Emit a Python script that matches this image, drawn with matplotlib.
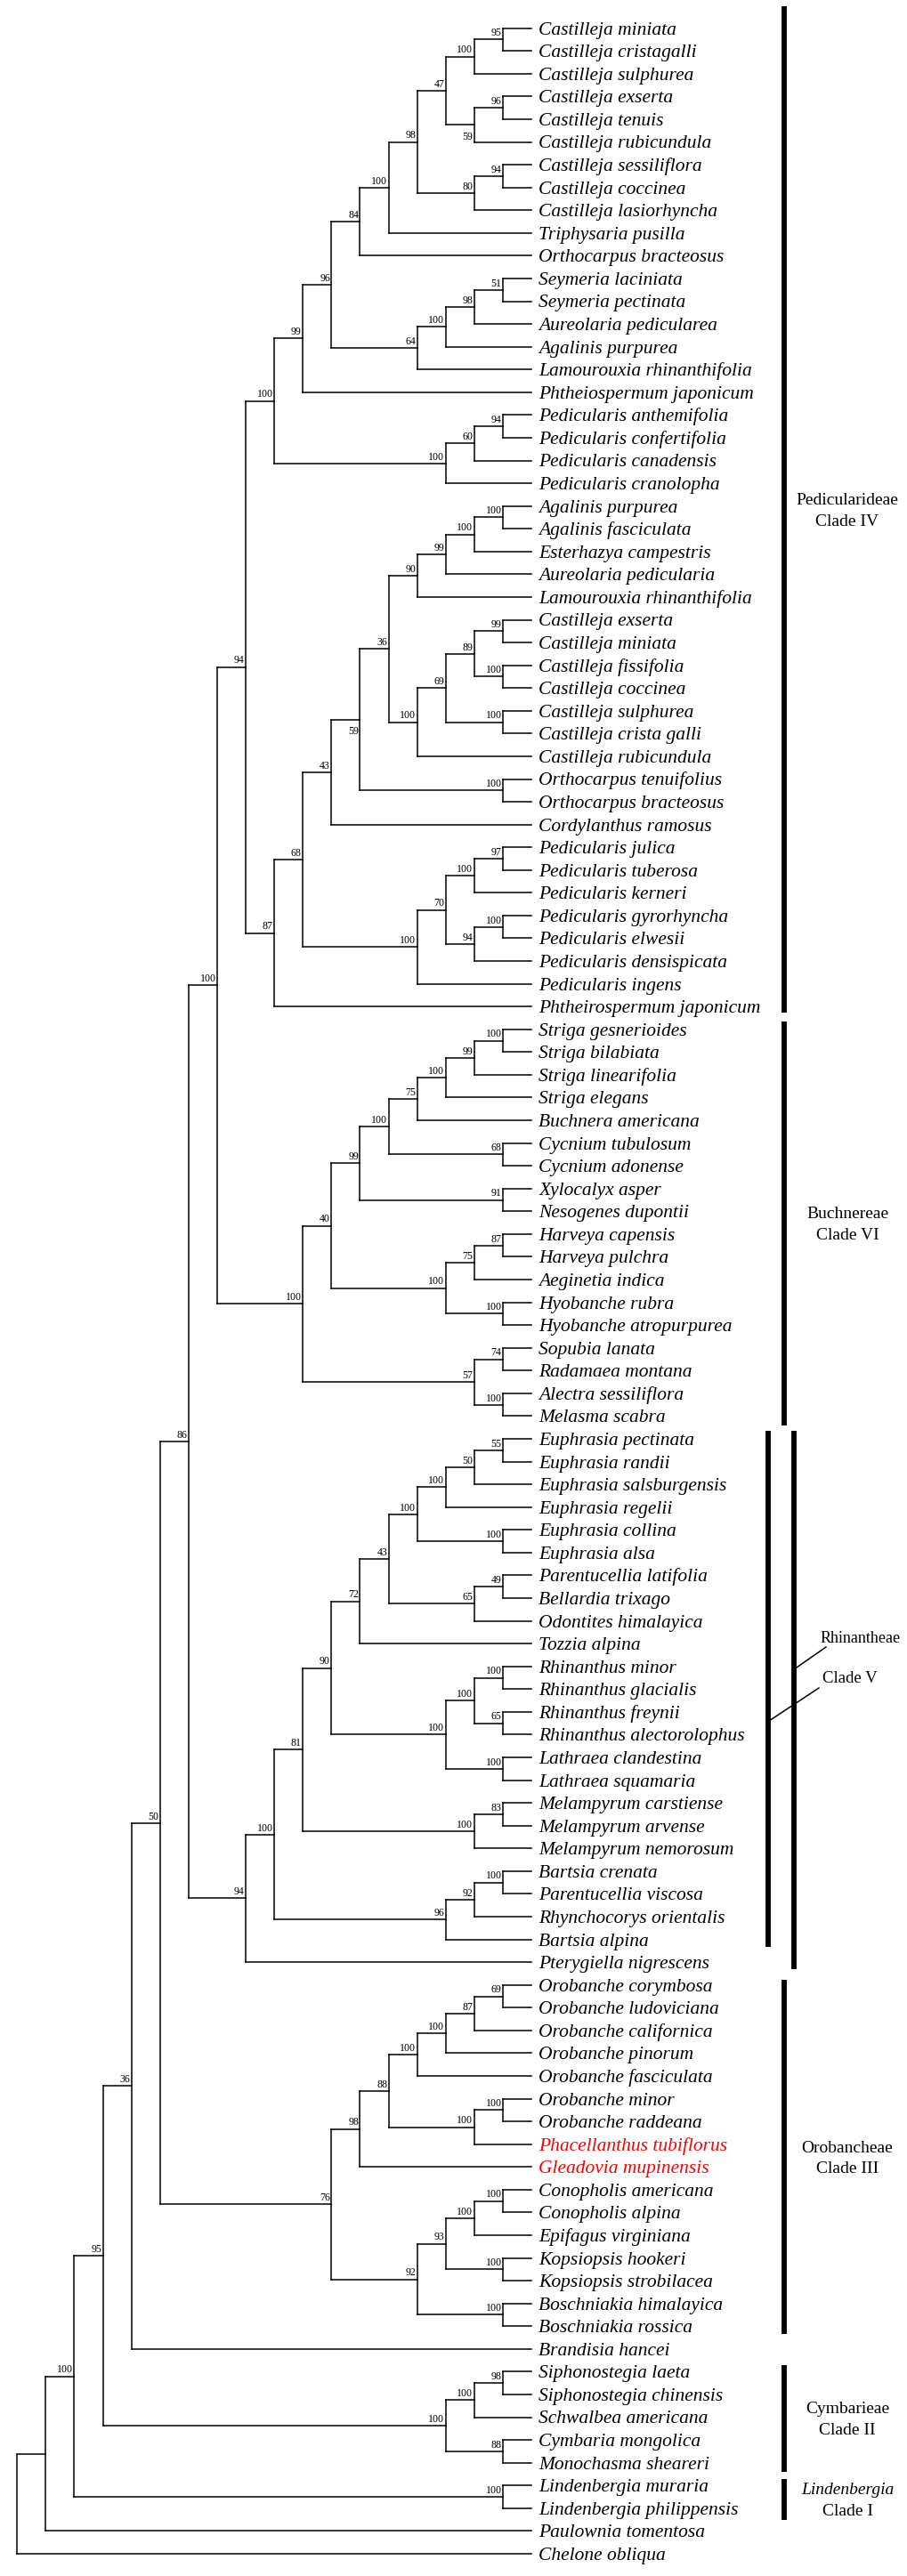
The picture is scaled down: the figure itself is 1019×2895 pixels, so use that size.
import matplotlib
matplotlib.use("Agg")
import matplotlib.pyplot as plt
from matplotlib.collections import LineCollection

# topology + bootstrap support, one newick chunk per tribe
PEDICULARIDEAE_A = (
    "(((((((((Castilleja miniata,Castilleja cristagalli)95,Castilleja sulphurea)100,"
    "((Castilleja exserta,Castilleja tenuis)96,Castilleja rubicundula)59)47,"
    "((Castilleja sessiliflora,Castilleja coccinea)94,Castilleja lasiorhyncha)80)98,"
    "Triphysaria pusilla)100,Orthocarpus bracteosus)84,"
    "((((Seymeria laciniata,Seymeria pectinata)51,Aureolaria pedicularea)98,"
    "Agalinis purpurea)100,Lamourouxia rhinanthifolia)64)96,Phtheiospermum japonicum)99,"
    "(((Pedicularis anthemifolia,Pedicularis confertifolia)94,Pedicularis canadensis)60,"
    "Pedicularis cranolopha)100)100"
)
PEDICULARIDEAE_B = (
    "(((((((((Agalinis purpurea,Agalinis fasciculata)100,Esterhazya campestris)100,"
    "Aureolaria pedicularia)99,Lamourouxia rhinanthifolia)90,"
    "((((Castilleja exserta,Castilleja miniata)99,(Castilleja fissifolia,Castilleja coccinea)100)89,"
    "(Castilleja sulphurea,Castilleja crista galli)100)69,Castilleja rubicundula)100)36,"
    "(Orthocarpus tenuifolius,Orthocarpus bracteosus)100)59,Cordylanthus ramosus)43,"
    "((((Pedicularis julica,Pedicularis tuberosa)97,Pedicularis kerneri)100,"
    "((Pedicularis gyrorhyncha,Pedicularis elwesii)100,Pedicularis densispicata)94)70,"
    "Pedicularis ingens)100)68,Phtheirospermum japonicum)87"
)
BUCHNEREAE = (
    "((((((((Striga gesnerioides,Striga bilabiata)100,Striga linearifolia)99,Striga elegans)100,"
    "Buchnera americana)75,(Cycnium tubulosum,Cycnium adonense)68)100,"
    "(Xylocalyx asper,Nesogenes dupontii)91)99,"
    "(((Harveya capensis,Harveya pulchra)87,Aeginetia indica)75,"
    "(Hyobanche rubra,Hyobanche atropurpurea)100)100)40,"
    "((Sopubia lanata,Radamaea montana)74,(Alectra sessiliflora,Melasma scabra)100)57)100"
)
RHINANTHEAE = (
    "((((((((((Euphrasia pectinata,Euphrasia randii)55,Euphrasia salsburgensis)50,Euphrasia regelii)100,"
    "(Euphrasia collina,Euphrasia alsa)100)100,"
    "((Parentucellia latifolia,Bellardia trixago)49,Odontites himalayica)65)43,Tozzia alpina)72,"
    "(((Rhinanthus minor,Rhinanthus glacialis)100,(Rhinanthus freynii,Rhinanthus alectorolophus)65)100,"
    "(Lathraea clandestina,Lathraea squamaria)100)100)90,"
    "((Melampyrum carstiense,Melampyrum arvense)83,Melampyrum nemorosum)100)81,"
    "(((Bartsia crenata,Parentucellia viscosa)100,Rhynchocorys orientalis)92,Bartsia alpina)96)100,"
    "Pterygiella nigrescens)94"
)
OROBANCHEAE = (
    "(((((((Orobanche corymbosa,Orobanche ludoviciana)69,Orobanche californica)87,Orobanche pinorum)100,"
    "Orobanche fasciculata)100,((Orobanche minor,Orobanche raddeana)100,Phacellanthus tubiflorus)100)88,"
    "Gleadovia mupinensis)98,"
    "((((Conopholis americana,Conopholis alpina)100,Epifagus virginiana)100,"
    "(Kopsiopsis hookeri,Kopsiopsis strobilacea)100)93,(Boschniakia himalayica,Boschniakia rossica)100)92)76"
)
CYMBARIEAE = ("(((Siphonostegia laeta,Siphonostegia chinensis)98,Schwalbea americana)100,"
              "(Cymbaria mongolica,Monochasma sheareri)88)100")
LINDENBERGIA = "(Lindenbergia muraria,Lindenbergia philippensis)100"

TREE = ("(((((((((" + PEDICULARIDEAE_A + "," + PEDICULARIDEAE_B + ")94,"
        + BUCHNEREAE + ")100," + RHINANTHEAE + ")86," + OROBANCHEAE + ")50,"
        "Brandisia hancei)36," + CYMBARIEAE + ")95," + LINDENBERGIA + ")100,"
        "Paulownia tomentosa),Chelone obliqua)")

HIGHLIGHT = ["Phacellanthus tubiflorus", "Gleadovia mupinensis"]
LABEL_BELOW = ["59"]

# clade bars on the right
CLADE_TOP = ["Pedicularideae", "Buchnereae", "Orobancheae", "Cymbarieae", "Lindenbergia"]
CLADE_SUB = ["Clade IV", "Clade VI", "Clade III", "Clade II", "Clade I"]
CLADE_FIRST = ["Castilleja miniata", "Striga gesnerioides", "Orobanche corymbosa",
               "Siphonostegia laeta", "Lindenbergia muraria"]
CLADE_LAST = ["Phtheirospermum japonicum", "Melasma scabra", "Boschniakia rossica",
              "Monochasma sheareri", "Lindenbergia philippensis"]


def parse(s):
    pos = 0

    def node():
        nonlocal pos
        if s[pos] == "(":
            pos += 1
            kids = [node()]
            while s[pos] == ",":
                pos += 1
                kids.append(node())
            pos += 1
            start = pos
            while pos < len(s) and s[pos] not in ",)":
                pos += 1
            return {"kids": kids, "label": s[start:pos]}
        start = pos
        while s[pos] not in ",)":
            pos += 1
        return {"name": s[start:pos]}

    return node()


root = parse(TREE)
leaves = []


def layout(n):
    if "name" in n:
        n["h"] = 0
        n["y"] = len(leaves)
        leaves.append(n)
        return
    for k in n["kids"]:
        layout(k)
    n["h"] = max(k["h"] for k in n["kids"]) + 1
    n["y"] = (n["kids"][0]["y"] + n["kids"][-1]["y"]) / 2


layout(root)

# pixel geometry of the original figure
W, H = 1020, 2895
TIP_PX, STEP_PX = 597, 32.1
ROW0_PX, ROW_PX = 31.7, 25.57


def fx(px):
    return (px - TIP_PX) / STEP_PX


def fy(py):
    return (py - ROW0_PX) / ROW_PX


fig = plt.figure(figsize=(W / 100, H / 100), dpi=100)
ax = fig.add_axes([0, 0, 1, 1])
ax.set_xlim(fx(0), fx(W))
ax.set_ylim(fy(H), fy(0))
ax.axis("off")

SERIF = "Liberation Serif"
segs = []
supports = []


def collect(n):
    if "kids" not in n:
        return
    x = -n["h"]
    segs.append([(x, n["kids"][0]["y"]), (x, n["kids"][-1]["y"])])
    for k in n["kids"]:
        segs.append([(x, k["y"]), (-k["h"], k["y"])])
        collect(k)
    if n["label"]:
        supports.append((x, n["y"], n["label"]))


collect(root)
ax.add_collection(LineCollection(segs, colors="black", linewidths=1.1,
                                 capstyle="projecting"))

for x, y, lab in supports:
    dy = -12 if lab in LABEL_BELOW else 3
    ax.annotate(lab, (x, y), xytext=(-1, dy), textcoords="offset points",
                ha="right", va="baseline", fontsize=8.6, family=SERIF)

for lf in leaves:
    ax.annotate(lf["name"], (0, lf["y"]), xytext=(6, -5), textcoords="offset points",
                ha="left", va="baseline", fontsize=15.5, family=SERIF, style="italic",
                color="red" if lf["name"] in HIGHLIGHT else "black")

names = [lf["name"] for lf in leaves]


def idx(name, after=0):
    return names.index(name, after)


BAR_X = fx(881)
BAR_LW = 4.2
LABEL_X = fx(952)
pad_top = [0.97, 0.34, 0.22, 0.29, 0.30]
pad_bot = [0.27, 0.41, 0.35, 0.40, 0.50]
start = 0
for i in range(len(CLADE_TOP)):
    a = idx(CLADE_FIRST[i], start)
    b = idx(CLADE_LAST[i], a)
    start = b
    y0, y1 = a - pad_top[i], b + pad_bot[i]
    ax.plot([BAR_X, BAR_X], [y0, y1], color="black", lw=BAR_LW, solid_capstyle="butt")
    mid = (y0 + y1) / 2
    ax.annotate(CLADE_TOP[i], (LABEL_X, mid), xytext=(0, 4), textcoords="offset points",
                ha="center", va="baseline", fontsize=14, family=SERIF,
                style="italic" if CLADE_TOP[i] == "Lindenbergia" else "normal")
    ax.annotate(CLADE_SUB[i], (LABEL_X, mid), xytext=(0, -13), textcoords="offset points",
                ha="center", va="baseline", fontsize=14, family=SERIF)

# Rhinantheae: two bars with leader lines
a = idx("Euphrasia pectinata")
b_in = idx("Bartsia alpina", a)
b_out = idx("Pterygiella nigrescens", a)
ax.plot([fx(863), fx(863)], [a - 0.35, b_in + 0.33], color="black", lw=BAR_LW, solid_capstyle="butt")
ax.plot([fx(892), fx(892)], [a - 0.35, b_out + 0.30], color="black", lw=BAR_LW, solid_capstyle="butt")
ax.plot([fx(895), fx(928)], [fy(1874), fy(1851)], color="black", lw=1.1)
ax.plot([fx(864), fx(920)], [fy(1934), fy(1897)], color="black", lw=1.1)
ax.text(fx(1012), fy(1846), "Rhinantheae", ha="right", va="baseline", fontsize=13, family=SERIF)
ax.text(fx(924), fy(1891), "Clade V", ha="left", va="baseline", fontsize=13.5, family=SERIF)

fig.savefig("out.png", dpi=100)
